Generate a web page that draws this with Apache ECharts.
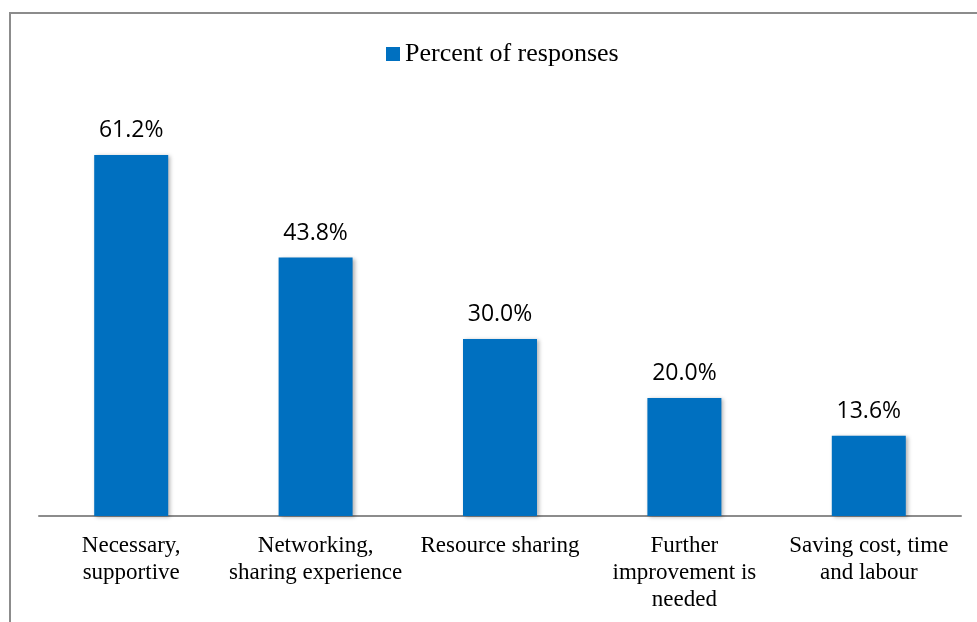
<!DOCTYPE html>
<html>
<head>
<meta charset="utf-8">
<script src="https://cdn.jsdelivr.net/npm/echarts@6/dist/echarts.min.js"></script>
<style>
  html, body { margin: 0; padding: 0; background: #fff; }
  #main { width: 977px; height: 622px; }
</style>
</head>
<body>
<div id="main"></div>
<script>
// chart data
const categories = [
    'Necessary,\nsupportive',
    'Networking,\nsharing experience',
    'Resource sharing',
    'Further\nimprovement is\nneeded',
    'Saving cost, time\nand labour'
];
const seriesName = 'Percent of responses';
const percentValues = [61.2, 43.8, 30.0, 20.0, 13.6];

let myChart = echarts.init(document.getElementById('main'));

let option = {
    backgroundColor: '#fff',
    animation: false,
    textStyle: {
        fontFamily: '"Liberation Serif", "Times New Roman", serif'
    },
    graphic: [
        {
            type: 'rect',
            shape: { x: 10, y: 13, width: 1200, height: 900 },
            style: { fill: 'none', stroke: '#8c8c8c', lineWidth: 2 },
            silent: true
        }
    ],
    legend: {
        data: [seriesName],
        left: 381,
        top: 36,
        itemWidth: 14,
        itemHeight: 14,
        itemGap: 5,
        icon: 'rect',
        textStyle: {
            fontFamily: '"Liberation Serif", "Times New Roman", serif',
            fontSize: 26,
            color: '#000'
        }
    },
    grid: {
        left: 39,
        right: 16,
        top: 103,
        bottom: 106
    },
    xAxis: {
        type: 'category',
        data: categories,
        axisLine: { lineStyle: { color: '#8c8c8c', width: 2 } },
        axisTick: { show: false },
        axisLabel: {
            interval: 0,
            margin: 16,
            fontFamily: '"Liberation Serif", "Times New Roman", serif',
            fontSize: 23,
            lineHeight: 27,
            color: '#000',
            verticalAlign: 'top'
        }
    },
    yAxis: {
        type: 'value',
        min: 0,
        max: 70,
        show: false,
        splitLine: { show: false }
    },
    series: [
        {
            name: seriesName,
            type: 'bar',
            data: percentValues,
            barWidth: 74,
            itemStyle: {
                color: '#0070C0',
                shadowColor: 'rgba(0,0,0,0.3)',
                shadowBlur: 4,
                shadowOffsetX: 2,
                shadowOffsetY: 1
            },
            label: {
                show: true,
                position: 'top',
                distance: 13,
                formatter: function (p) {
                    return p.value.toFixed(1) + '%';
                },
                fontFamily: '"Open Sans", sans-serif',
                fontSize: 23,
                color: '#000'
            }
        }
    ]
};

myChart.setOption(option);
</script>
</body>
</html>
